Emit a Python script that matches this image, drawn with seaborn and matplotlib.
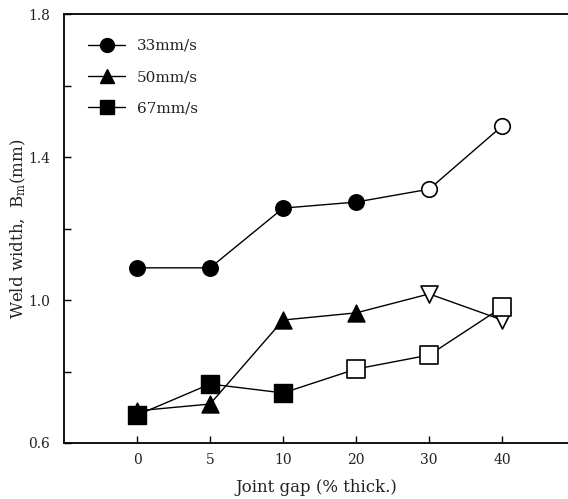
import pandas as pd
import seaborn as sns
import matplotlib.pyplot as plt
from matplotlib.lines import Line2D

# data
gaps = ['0', '5', '10', '20', '30', '40']
w33 = [1.09, 1.09, 1.257, 1.274, 1.31, 1.487]
w50 = [0.69, 0.709, 0.944, 0.964, 1.017, 0.944]
w67 = [0.678, 0.765, 0.74, 0.807, 0.846, 0.98]
# which points are drawn with open markers
open33 = [False, False, False, False, True, True]
open50 = [False, False, False, False, True, True]
open67 = [False, False, False, True, True, True]
speeds = ['33mm/s', '50mm/s', '67mm/s']

sns.set_theme(style='white')
plt.rcParams['font.family'] = ['DejaVu Serif']
plt.rcParams['mathtext.fontset'] = 'dejavuserif'

rows = []
for sp, vals, opens in zip(speeds, [w33, w50, w67], [open33, open50, open67]):
    for i, (g, v, o) in enumerate(zip(gaps, vals, opens)):
        rows.append({'speed': sp, 'pos': i, 'gap': g, 'width': v, 'open': o})
df = pd.DataFrame(rows)

fig = plt.figure(figsize=(5.68, 4.99), dpi=100)
ax = fig.add_axes([64/568, 56/499, 1 - 64/568, 429/499])

sns.lineplot(data=df, x='pos', y='width', units='speed', estimator=None,
             color='black', lw=1.0, ax=ax, legend=False)

filled_mk = {'33mm/s': 'o', '50mm/s': '^', '67mm/s': 's'}
open_mk = {'33mm/s': 'o', '50mm/s': 'v', '67mm/s': 's'}
sizes = {'33mm/s': 125, '50mm/s': 150, '67mm/s': 170}
for sp in speeds:
    sub = df[df['speed'] == sp]
    sns.scatterplot(data=sub[~sub['open']], x='pos', y='width', marker=filled_mk[sp],
                    s=sizes[sp], color='black', edgecolor='black', linewidth=1, ax=ax,
                    zorder=3, legend=False)
    sns.scatterplot(data=sub[sub['open']], x='pos', y='width', marker=open_mk[sp],
                    s=sizes[sp], color='white', edgecolor='black', linewidth=1.2, ax=ax,
                    zorder=3, legend=False)

ax.set_xlim(-1, 5.9)
ax.set_ylim(0.6, 1.8)
ax.set_xticks(range(len(gaps)))
ax.set_xticklabels(gaps)
ax.set_yticks([0.6, 1.0, 1.4, 1.8])
ax.set_yticks([0.8, 1.2, 1.6], minor=True)
ax.tick_params(axis='both', which='both', direction='in', length=5, width=1,
               color='black', labelsize=10, labelcolor='#222222')
ax.tick_params(axis='y', which='both', left=True, pad=10)
ax.tick_params(axis='x', which='major', bottom=True, pad=7.5)
for side in ['left', 'bottom', 'top']:
    ax.spines[side].set_color('black')
    ax.spines[side].set_linewidth(1.3)
ax.spines['right'].set_visible(False)

ax.set_xlabel('Joint gap (% thick.)', fontsize=12, color='#222222', labelpad=8)
ax.set_ylabel('Weld width,  B$_{\\rm m}$(mm)', fontsize=12, color='#222222', labelpad=0)

handles = [Line2D([], [], color='black', lw=1, marker=filled_mk[sp], markersize=10)
           for sp in speeds]
ax.legend(handles, speeds, loc='upper left', bbox_to_anchor=(0.021, 0.974), frameon=False,
          fontsize=11, handlelength=2.4, handletextpad=0.76, labelspacing=1.13,
          labelcolor='#222222')

fig.savefig('out.png', dpi=100)
